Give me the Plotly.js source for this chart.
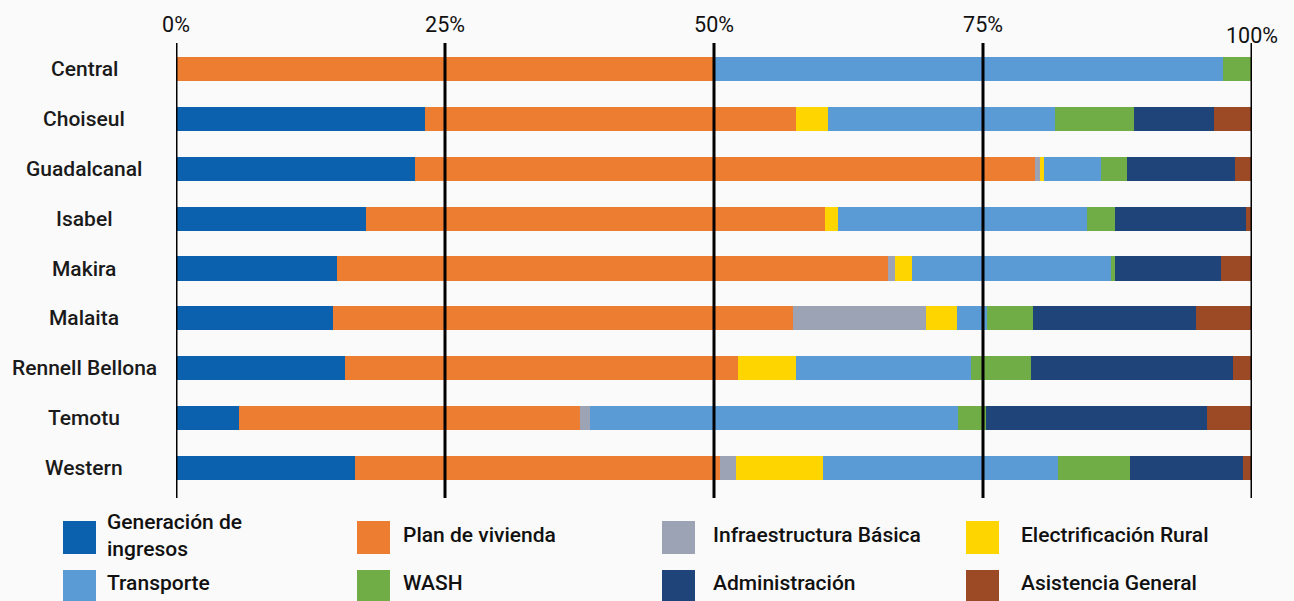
<!DOCTYPE html>
<html>
<head>
<meta charset="utf-8">
<script src="https://cdn.plot.ly/plotly-3.0.1.min.js"></script>
<style>html,body{margin:0;padding:0;background:#fafafa;}#chart{width:1294px;height:601px;}</style>
</head>
<body>
<div id="chart"></div>
<script>
const categories = ['Central','Choiseul','Guadalcanal','Isabel','Makira','Malaita','Rennell Bellona','Temotu','Western'];
const seriesNames = ['Generación de ingresos','Plan de vivienda','Infraestructura Básica','Electrificación Rural','Transporte','WASH','Administración','Asistencia General'];
const legendLabels = ['Generación de<br>ingresos','Plan de vivienda','Infraestructura Básica','Electrificación Rural','Transporte','WASH','Administración','Asistencia General'];
const colors = ['#0b61ae','#ed7d31','#9ba3b4','#ffd500','#5b9bd5','#70ad47','#1f4479','#9c4a26'];

const generacion = [0, 23.1, 22.2, 17.7, 15.0, 14.6, 15.7, 5.9, 16.6];
const vivienda   = [50.0, 34.5, 57.6, 42.6, 51.2, 42.7, 36.5, 31.6, 34.0];
const infra      = [0, 0, 0.5, 0, 0.6, 12.4, 0, 1.0, 1.4];
const electr     = [0, 3.0, 0.4, 1.2, 1.6, 2.9, 5.4, 0, 8.1];
const transporte = [47.3, 21.1, 5.3, 23.2, 18.5, 2.8, 16.3, 34.2, 21.9];
const wash       = [2.7, 7.3, 2.4, 2.6, 0.4, 4.2, 5.6, 2.6, 6.7];
const admin      = [0, 7.5, 10.0, 12.1, 9.8, 15.2, 18.7, 20.5, 10.5];
const asistencia = [0, 3.5, 1.6, 0.6, 2.9, 5.2, 1.8, 4.2, 0.8];

const tickVals = [0, 25, 50, 75, 100];
const tickLabels = ['0%', '25%', '50%', '75%', '100%'];

const seriesValues = [generacion, vivienda, infra, electr, transporte, wash, admin, asistencia];

const W = 1294, H = 601;
const M = {l: 176, r: 42, t: 43, b: 103};
const pw = W - M.l - M.r, ph = H - M.t - M.b;
const px = x => (x - M.l) / pw;
const py = y => (H - M.b - y) / ph;

const traces = seriesValues.map((vals, i) => ({
  type: 'bar', orientation: 'h',
  name: seriesNames[i], x: vals, y: categories,
  marker: {color: colors[i], line: {width: 0}},
  showlegend: false, hoverinfo: 'x+name'
}));

const shapes = [];
const annotations = [];

// vertical grid lines above bars
tickVals.forEach(v => shapes.push({type: 'line', xref: 'x', yref: 'paper', x0: v, x1: v, y0: 0, y1: 1, layer: 'above', line: {color: '#000', width: 3}}));

// 100% label sits lower in the reference
annotations.push({xref: 'x', yref: 'paper', x: 100, y: py(35), text: tickLabels[4], showarrow: false, xanchor: 'center', yanchor: 'middle', font: {family: 'Roboto', size: 21.5, color: '#111'}});

// category labels, centered
categories.forEach(c => annotations.push({xref: 'paper', yref: 'y', x: px(84), y: c, text: c, showarrow: false, xanchor: 'center', yanchor: 'middle', font: {family: 'Roboto', size: 21, color: '#1a1a1a', weight: 500}}));

// custom legend
const legSqX = [63, 357, 662, 966];
const legTxX = [105, 401, 711, 1019];
const legRowTop = [521, 570];
const legRowMid = [535, 583];
const sq = 33;
legendLabels.forEach((lab, i) => {
  const col = i % 4, row = Math.floor(i / 4);
  shapes.push({type: 'rect', xref: 'paper', yref: 'paper', x0: px(legSqX[col]), x1: px(legSqX[col] + sq), y0: py(legRowTop[row]), y1: py(legRowTop[row] + sq), fillcolor: colors[i], line: {width: 0}, layer: 'above'});
  annotations.push({xref: 'paper', yref: 'paper', x: px(legTxX[col]), y: py(legRowMid[row]), text: lab, showarrow: false, xanchor: 'left', yanchor: 'middle', align: 'left', font: {family: 'Roboto', size: 21, color: '#111', weight: 500}});
});

const layout = {
  width: W, height: H,
  margin: M,
  paper_bgcolor: '#fafafa', plot_bgcolor: '#fafafa',
  barmode: 'stack', bargap: 0.516,
  showlegend: false,
  xaxis: {
    side: 'top', range: [0, 100], tickvals: tickVals.slice(0, 4), ticktext: tickLabels.slice(0, 4),
    showgrid: false, zeroline: false, showline: false, ticks: '',
    tickfont: {family: 'Roboto', size: 21.5, color: '#111'}, ticklabelstandoff: 6, fixedrange: true
  },
  yaxis: {
    type: 'category', range: [8.6, -0.52], showticklabels: false,
    showgrid: false, zeroline: false, showline: false, ticks: '', fixedrange: true
  },
  shapes: shapes,
  annotations: annotations
};

Plotly.newPlot('chart', traces, layout, {displayModeBar: false, staticPlot: true});
</script>
</body>
</html>
